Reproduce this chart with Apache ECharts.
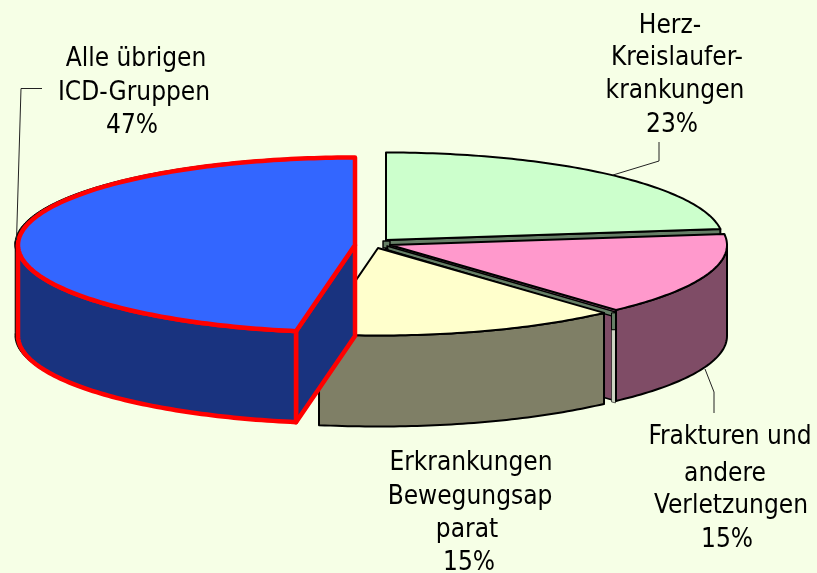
<!DOCTYPE html>
<html>
<head>
<meta charset="utf-8">
<style>html,body{margin:0;padding:0;background:#F6FFE6}#c{width:817px;height:573px}</style>
<script src="https://cdn.jsdelivr.net/npm/echarts@6/dist/echarts.min.js"></script>
</head>
<body>
<div id="c"></div>
<script>
// Data (draw order: back to front, clockwise from north)
const categories = ['Herz-Kreislauferkrankungen', 'Frakturen und andere Verletzungen', 'Erkrankungen Bewegungsapparat', 'Alle übrigen ICD-Gruppen'];
const values = [23, 15.3, 14.5, 47.2];
const labelLines = [
  ['Herz-', 'Kreislaufer-', 'krankungen'],
  ['Frakturen und', 'andere', 'Verletzungen'],
  ['Erkrankungen', 'Bewegungsap', 'parat'],
  ['Alle übrigen', 'ICD-Gruppen']
];
// Styles
const topColors = ['#CCFFCC', '#FF99CC', '#FFFFCC', '#3366FF'];
const sideColors = ['#667F66', '#7F4C66', '#7F7F66', '#19337F'];
const strokeColors = ['#000000', '#000000', '#000000', '#FF0000'];
const strokeWidths = [2, 2, 2, 4.5];
// Layout
const RX = 337, RY = 87.5, DEPTH = 91;
const centers = [[386, 240], [390, 245], [378, 248], [355, 245]];
const labelPos = [
  [[670, 26], [677, 58], [675, 91], [672, 125]],
  [[730, 437], [725, 474], [731, 506], [727, 540]],
  [[471, 463], [470, 497], [467, 530], [469, 563]],
  [[136, 59], [134, 93], [132, 126]]
];
const leaders = [
  [[659, 142], [659, 161], [613, 175]],
  [[705, 369], [714, 392], [714, 413]],
  null,
  [[42, 88.5], [21, 88.5], [16.5, 240]]
];
const FONT = '26px "DejaVu Sans Condensed", "DejaVu Sans", sans-serif';

const rad = d => d * Math.PI / 180;
function rim(c, deg, dz) {
  return [c[0] + RX * Math.sin(rad(deg)), c[1] - RY * Math.cos(rad(deg)) + (dz || 0)];
}
function arc(c, a, b, dz) {
  const pts = [], n = Math.max(2, Math.ceil(Math.abs(b - a)));
  for (let i = 0; i <= n; i++) pts.push(rim(c, a + (b - a) * i / n, dz));
  return pts;
}
function poly(points, fill, stroke, lw) {
  return { type: 'polygon', shape: { points }, style: { fill, stroke, lineWidth: lw, lineJoin: 'round' } };
}
function wall(c, a, b) {
  return arc(c, a, b, 0).concat(arc(c, b, a, DEPTH));
}
function face(c, deg) {
  const r = rim(c, deg);
  return [[c[0], c[1]], r, [r[0], r[1] + DEPTH], [c[0], c[1] + DEPTH]];
}
function topFace(c, a, b) {
  return [[c[0], c[1]]].concat(arc(c, a, b, 0));
}
function shift(pts, dx, dy) { return pts.map(p => [p[0] + dx, p[1] + dy]); }

const seriesData = values.map((v, i) => [v, values.slice(0, i).reduce((s, x) => s + x, 0)]);
const total = values.reduce((s, x) => s + x, 0);

function renderItem(params, api) {
  const i = params.dataIndex;
  const v = api.value(0), start = api.value(1);
  const a = start / total * 360, b = (start + v) / total * 360;
  const c = centers[i];
  const top = topColors[i], side = sideColors[i], st = strokeColors[i], lw = strokeWidths[i];
  const kids = [];

  if (i === 0) {
    kids.push(poly(face(c, b), side, '#000', 2));
    kids.push(poly([[c[0] - 3, c[1] + 1], [c[0] + 4, c[1] + 1], [c[0] + 4, c[1] + 8], [c[0] - 3, c[1] + 8]], side, '#000', 1.4));
    kids.push(poly(topFace(c, a, b), top, st, lw));
  }
  if (i === 1) {
    const r = rim(c, b);
    const edgeR = [r[0] - 1, r[1] + 2];
    kids.push(poly(face(c, b), side, '#000', 1.6));
    // seam along the cut edge
    kids.push(poly([[c[0] - 3, c[1] + 1], edgeR, [edgeR[0] - 3.5, edgeR[1] + 4], [c[0] - 2, c[1] + 5]], sideColors[0], '#000', 1.5));
    kids.push(poly([[r[0] - 4.5, r[1] + 3], [r[0] - 0.5, r[1] + 3], [r[0] - 0.5, r[1] + 20], [r[0] - 4.5, r[1] + 20]], sideColors[0], '#000', 1));
    kids.push(poly([[r[0] - 4.5, r[1] + 20], [r[0] - 0.5, r[1] + 20], [r[0] - 0.5, r[1] + DEPTH + 2], [r[0] - 4.5, r[1] + DEPTH + 1]], '#CDD4C2', '#000', 0.6));
    kids.push(poly(wall(c, 90, b), side, st, lw));
    kids.push(poly(topFace(c, a, b), top, st, lw));
  }
  if (i === 2) {
    kids.push(poly(wall(c, a, b), side, st, lw));
    kids.push(poly(topFace(c, a, b), top, st, lw));
  }
  if (i === 3) {
    const under = wall(c, a, 272);
    kids.push(poly(shift(under, -3, -0.5), '#000', '#000', 1));
    kids.push(poly(shift(topFace(c, a, b), -3, -1), '#000', '#000', 1));
    kids.push(poly(face(c, a), side, st, lw));
    kids.push(poly(wall(c, a, 270), side, st, lw));
    kids.push(poly(topFace(c, a, b), top, st, lw));
  }

  if (leaders[i]) {
    kids.push({ type: 'polyline', shape: { points: leaders[i] }, style: { fill: 'none', stroke: '#222', lineWidth: 1 } });
  }
  const lines = labelLines[i].concat([Math.round(v) + '%']);
  lines.forEach((t, k) => {
    const p = labelPos[i][k];
    kids.push({ type: 'text', style: { x: p[0], y: p[1], text: t, fill: '#000', font: FONT, align: 'center', verticalAlign: 'middle' } });
  });
  return { type: 'group', children: kids };
}

const chart = echarts.init(document.getElementById('c'), null, { renderer: 'canvas' });
chart.setOption({
  backgroundColor: '#F6FFE6',
  animation: false,
  series: [{
    type: 'custom',
    name: 'ICD',
    coordinateSystem: 'none',
    renderItem,
    data: seriesData.map((d, i) => ({ name: categories[i], value: d })),
    silent: true
  }]
});
</script>
</body>
</html>
